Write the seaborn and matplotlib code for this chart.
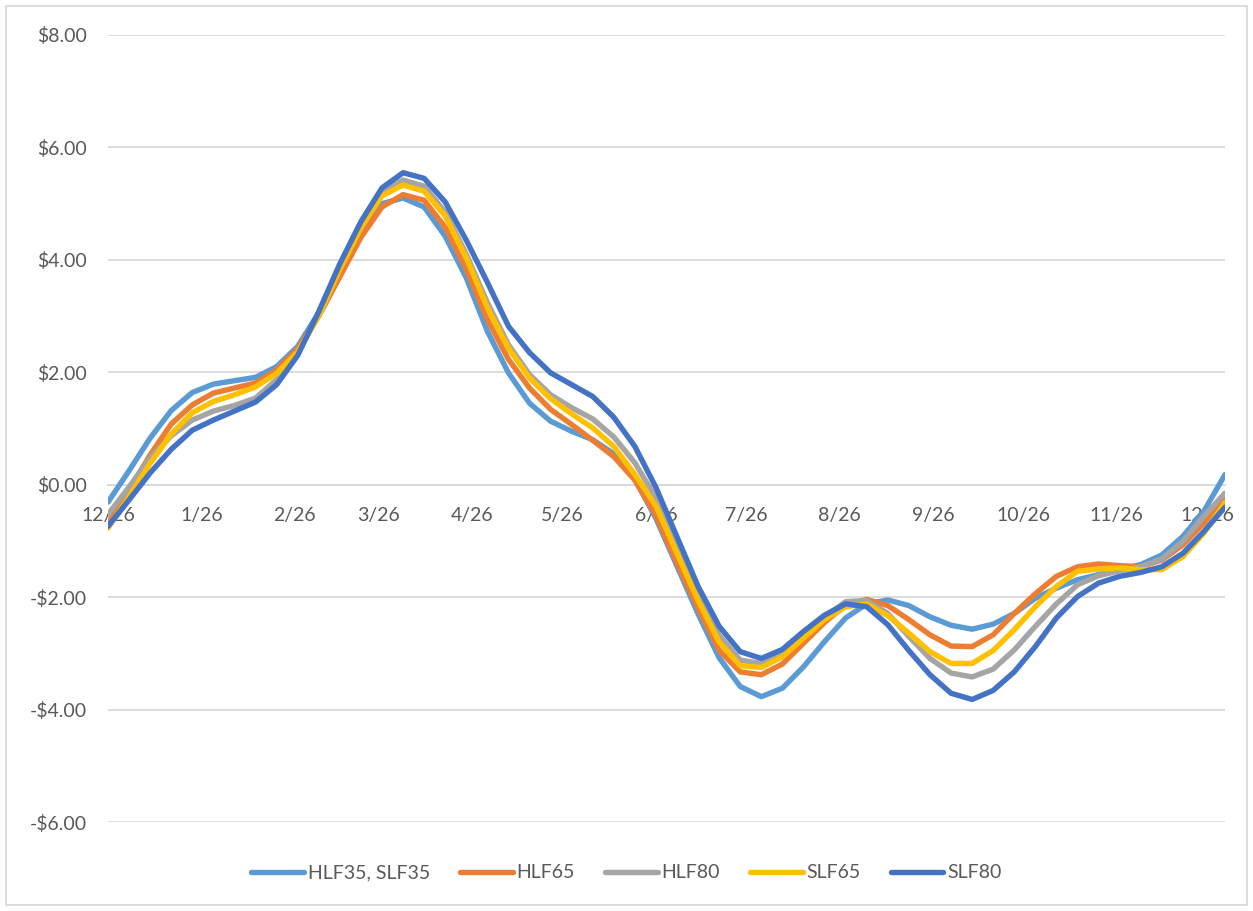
import numpy as np
import pandas as pd
import matplotlib
matplotlib.use("Agg")
import matplotlib.pyplot as plt
import seaborn as sns
from matplotlib.lines import Line2D
from matplotlib.patches import Rectangle

# Weekly values, starting 12/26, 54 weeks
start_date = "2020-12-26"
series_names = ["HLF35, SLF35", "HLF65", "HLF80", "SLF65", "SLF80"]

hlf35 = [-0.31, 0.25, 0.83, 1.32, 1.64, 1.79, 1.85, 1.91, 2.10, 2.46,
         3.06, 3.80, 4.50, 5.00, 5.10, 4.94, 4.42, 3.68, 2.73, 1.99,
         1.45, 1.13, 0.95, 0.80, 0.55, 0.10, -0.60, -1.45, -2.30, -3.08,
         -3.59, -3.77, -3.62, -3.24, -2.79, -2.37, -2.12, -2.05, -2.15, -2.35,
         -2.50, -2.57, -2.48, -2.29, -2.02, -1.84, -1.69, -1.60, -1.51, -1.42,
         -1.25, -0.92, -0.47, 0.18]
hlf65 = [-0.69, -0.09, 0.53, 1.08, 1.42, 1.63, 1.72, 1.81, 2.04, 2.42,
         3.00, 3.70, 4.40, 4.94, 5.16, 5.06, 4.58, 3.83, 2.94, 2.23,
         1.72, 1.34, 1.07, 0.79, 0.50, 0.08, -0.55, -1.40, -2.20, -2.95,
         -3.33, -3.38, -3.19, -2.82, -2.45, -2.14, -2.04, -2.15, -2.40, -2.67,
         -2.87, -2.88, -2.67, -2.29, -1.94, -1.63, -1.46, -1.41, -1.44, -1.46,
         -1.34, -1.07, -0.68, -0.22]
hlf80 = [-0.53, -0.04, 0.48, 0.87, 1.15, 1.31, 1.41, 1.54, 1.87, 2.35,
         3.03, 3.88, 4.62, 5.21, 5.42, 5.31, 4.85, 4.10, 3.24, 2.49,
         1.96, 1.60, 1.37, 1.17, 0.85, 0.39, -0.24, -1.09, -1.93, -2.68,
         -3.12, -3.18, -3.00, -2.67, -2.35, -2.08, -2.06, -2.29, -2.70, -3.09,
         -3.35, -3.42, -3.28, -2.94, -2.52, -2.12, -1.78, -1.62, -1.53, -1.46,
         -1.32, -1.01, -0.56, -0.15]
slf65 = [-0.77, -0.21, 0.38, 0.90, 1.28, 1.48, 1.60, 1.74, 1.98, 2.36,
         3.00, 3.83, 4.57, 5.14, 5.33, 5.22, 4.78, 4.04, 3.15, 2.43,
         1.90, 1.53, 1.26, 1.01, 0.68, 0.18, -0.38, -1.22, -2.06, -2.80,
         -3.22, -3.25, -3.06, -2.73, -2.40, -2.17, -2.12, -2.33, -2.64, -2.97,
         -3.18, -3.18, -2.95, -2.58, -2.17, -1.81, -1.54, -1.50, -1.48, -1.51,
         -1.51, -1.28, -0.86, -0.32]
slf80 = [-0.74, -0.27, 0.21, 0.63, 0.97, 1.15, 1.31, 1.47, 1.78, 2.30,
         3.08, 3.93, 4.68, 5.28, 5.55, 5.45, 5.03, 4.35, 3.60, 2.82,
         2.35, 1.99, 1.78, 1.57, 1.20, 0.68, -0.05, -0.93, -1.81, -2.52,
         -2.97, -3.09, -2.93, -2.61, -2.32, -2.12, -2.17, -2.49, -2.95, -3.38,
         -3.71, -3.82, -3.66, -3.33, -2.88, -2.37, -1.99, -1.75, -1.63, -1.56,
         -1.46, -1.22, -0.83, -0.40]

x_tick_labels = ["12/26", "1/26", "2/26", "3/26", "4/26", "5/26", "6/26",
                 "7/26", "8/26", "9/26", "10/26", "11/26", "12/26"]
y_ticks = [-6, -4, -2, 0, 2, 4, 6, 8]

colors = ["#5B9BD5", "#ED7D31", "#A5A5A5", "#FFC000", "#4472C4"]
text_color = "#595959"
grid_color = "#D9D9D9"

all_values = [hlf35, hlf65, hlf80, slf65, slf80]
n_points = len(hlf35)

dates = pd.date_range(start_date, periods=n_points, freq="7D")
days = (dates - dates[0]).days.values
tick_dates = pd.date_range(start_date, periods=len(x_tick_labels),
                           freq=pd.DateOffset(months=1))
tick_days = (tick_dates - dates[0]).days.values

df = pd.DataFrame({
    "day": np.tile(days, len(series_names)),
    "value": np.concatenate(all_values),
    "series": np.repeat(series_names, n_points),
})

sns.set_style("white")
plt.rcParams["font.family"] = ["Lato", "DejaVu Sans"]

fig = plt.figure(figsize=(12.53, 9.11), dpi=100)
ax = fig.add_axes([108 / 1253, 1 - 822 / 911, (1225 - 108) / 1253, (822 - 35) / 911])

lw = 3.9
sns.lineplot(data=df, x="day", y="value", hue="series", hue_order=series_names,
             palette=colors, linewidth=lw, sort=False, legend=False, ax=ax)
for line in ax.lines:
    line.set_solid_joinstyle("round")
    line.set_solid_capstyle("round")

ax.set_xlim(days[0], days[-1])
ax.set_ylim(-6, 8)
ax.set_xlabel("")
ax.set_ylabel("")

ax.set_yticks(y_ticks)
ax.set_yticklabels([f"-${abs(v):.2f}" if v < 0 else f"${v:.2f}" for v in y_ticks])
ax.set_xticks(tick_days)
ax.set_xticklabels(x_tick_labels)

ax.yaxis.grid(True, color=grid_color, linewidth=1.3)
ax.set_axisbelow(True)
for side in ["top", "right", "left"]:
    ax.spines[side].set_visible(False)
ax.spines["bottom"].set_position(("data", 0))
ax.spines["bottom"].set_color(grid_color)
ax.spines["bottom"].set_linewidth(1.3)
ax.spines["bottom"].set_zorder(0.5)

ax.tick_params(axis="y", length=0, pad=15, labelsize=14, labelcolor=text_color)
ax.tick_params(axis="x", length=5, width=1.3, color=grid_color, direction="out",
               pad=11, labelsize=14, labelcolor=text_color)

handles = [Line2D([0], [0], color=c, lw=lw, solid_capstyle="round") for c in colors]
fig.legend(handles, series_names, loc="center", bbox_to_anchor=(0.5, 1 - 873 / 911),
           ncol=5, frameon=False, handlelength=2.7, handletextpad=0.2,
           columnspacing=1.55, fontsize=14, labelcolor=text_color)

fig.patches.append(Rectangle((6 / 1253, 6 / 911), 1 - 12 / 1253, 1 - 12 / 911,
                             transform=fig.transFigure, fill=False,
                             edgecolor=grid_color, linewidth=1.3))

fig.savefig("out.png", dpi=100)
